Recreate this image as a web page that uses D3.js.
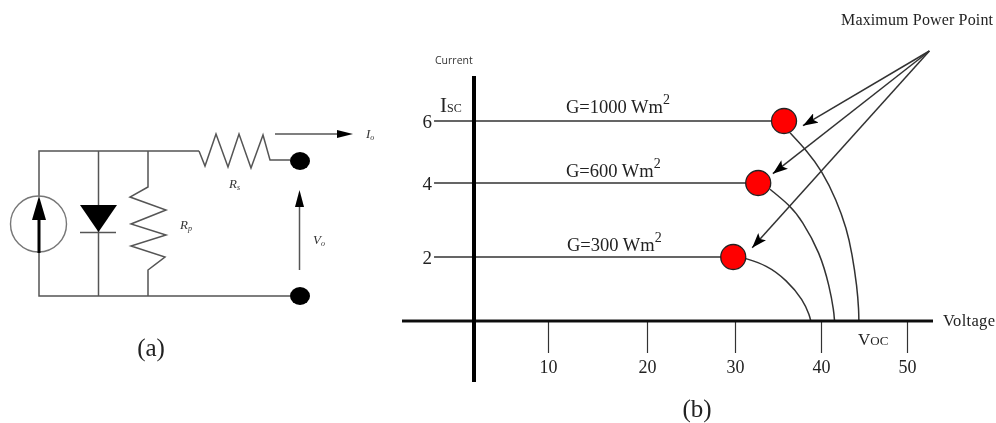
<!DOCTYPE html>
<html><head><meta charset="utf-8">
<script src="https://cdn.jsdelivr.net/npm/d3@7"></script>
<style>html,body{margin:0;padding:0;background:#fff}svg{display:block}</style>
</head><body><svg id="c" width="996" height="423"></svg>
<script>
// ---- chart (b) data ----
const voltageTicks = [10, 20, 30, 40, 50];
const currentTicks = [2, 4, 6];
const irradianceLabels = ["G=1000 Wm", "G=600 Wm", "G=300 Wm"];
const iscValues = [6, 4, 2];
const mppVoltage = [35.7, 32.7, 29.8];
const curve1000 = [[36.4,5.62],[38.3,5.06],[40.1,4.4],[41.8,3.54],[43.0,2.75],[43.6,2.11],[44.2,1.06],[44.4,0.3],[44.4,0]];
const curve600  = [[34.07,3.83],[36.4,3.39],[37.76,3.0],[39.9,2.11],[41.0,1.06],[41.5,0.3],[41.57,0]];
const curve300  = [[31.0,1.97],[33.69,1.75],[36.0,1.28],[37.94,0.66],[38.7,0.15],[38.8,0]];
const arrowTips = [[37.9,5.85],[34.4,4.3],[32,2.25]];
const arrowSource = [[52.6,8.3]];

// ---- circuit (a) nodes ----
const wireTop = [[39,196],[39,151],[199,151]];
const wireBottom = [[39,253],[39,296],[290,296]];
const wireDiode = [[98.5,151],[98.5,296]];
const resistorS = [[199,151],[205,166],[216,134],[228,167],[239,134],[251,168],[263,135],[270,160],[290,160]];
const resistorP = [[148,151],[148,187],[130,197],[166,210],[131,224],[166,235],[131,246],[165,257],[148,270],[148,296]];

const svg = d3.select("#c");
const defs = svg.append("defs");
defs.append("filter").attr("id","soft").attr("x","-5%").attr("y","-5%").attr("width","110%").attr("height","110%")
  .append("feGaussianBlur").attr("stdDeviation",0.45);
const marker = defs.append("marker").attr("id","head").attr("viewBox","0 0 14 10").attr("refX",14).attr("refY",5)
  .attr("markerUnits","userSpaceOnUse").attr("markerWidth",15).attr("markerHeight",11).attr("orient","auto");
marker.append("path").attr("d","M0,0L14,5L0,10L3,5Z").attr("fill","#000");

const root = svg.append("g").attr("filter","url(#soft)");
const SERIF = "'Liberation Serif','Times New Roman',serif";
const ink = "#333";

// ---- (b) scales: the printed axes are not evenly spaced ----
const x = d3.scaleLinear().domain([0,10,20,30,40,50]).range([474,548,647,735,821,907]);
const y = d3.scaleLinear().domain([0,2,4,6,8.3]).range([321,257,183,121,51]);

// horizontal plateaus with left tick stubs
const plateauStart = -5.4;
root.append("g").selectAll("line").data(iscValues).join("line")
  .attr("x1",x(plateauStart)).attr("x2",(d,i)=>x(mppVoltage[i])).attr("y1",d=>y(d)).attr("y2",d=>y(d))
  .attr("stroke",ink).attr("stroke-width",1.5);

// knee curves
const kneeCurve = d3.line().x(d=>x(d[0])).y(d=>y(d[1])).curve(d3.curveBasis);
root.append("g").selectAll("path").data([curve1000,curve600,curve300]).join("path")
  .attr("d",kneeCurve).attr("fill","none").attr("stroke",ink).attr("stroke-width",1.5);

// axes
const xAxisG = root.append("g").attr("transform",`translate(0,${y(0)})`);
xAxisG.call(d3.axisBottom(x).tickValues(voltageTicks).tickSize(32).tickPadding(7).tickFormat(d3.format("d")));
xAxisG.select(".domain").remove();
xAxisG.selectAll("line").attr("stroke",ink).attr("stroke-width",1.2);
xAxisG.selectAll("text").attr("font-family",SERIF).attr("font-size",18).attr("fill","#222");
root.append("line").attr("x1",402).attr("x2",933).attr("y1",y(0)).attr("y2",y(0)).attr("stroke","#111").attr("stroke-width",3);
root.append("line").attr("x1",x(0)).attr("x2",x(0)).attr("y1",76).attr("y2",382).attr("stroke","#000").attr("stroke-width",4);

const yAxisG = root.append("g").attr("transform",`translate(${x(plateauStart)},0)`);
yAxisG.call(d3.axisLeft(y).tickValues(currentTicks).tickSize(0).tickPadding(2).tickFormat(d3.format("d")));
yAxisG.select(".domain").remove();
yAxisG.selectAll("text").attr("font-family",SERIF).attr("font-size",19).attr("fill","#222");

// leader arrows
root.append("g").selectAll("line").data(arrowTips).join("line")
  .attr("x1",x(arrowSource[0][0])).attr("y1",y(arrowSource[0][1]))
  .attr("x2",d=>x(d[0])).attr("y2",d=>y(d[1]))
  .attr("stroke",ink).attr("stroke-width",1.5).attr("marker-end","url(#head)");

// maximum power points
root.append("g").selectAll("circle").data(iscValues).join("circle")
  .attr("cx",(d,i)=>x(mppVoltage[i])).attr("cy",d=>y(d)).attr("r",12.5)
  .attr("fill","#f00").attr("stroke","#222").attr("stroke-width",1.3);

function label(parent,t,px,py,size,opts={}){
  return parent.append("text").attr("x",px).attr("y",py).text(t)
    .attr("font-family",opts.family||SERIF).attr("font-size",size)
    .attr("font-style",opts.style||null).attr("text-anchor",opts.anchor||"start")
    .attr("fill",opts.fill||"#222").attr("textLength",opts.len||null);
}
// irradiance labels
const gPos = [[566,113],[566,177],[567,251]];
irradianceLabels.forEach((t,i)=>{
  const tx = label(root,t,gPos[i][0],gPos[i][1],18.5);
  tx.append("tspan").text("2").attr("font-size",14).attr("dy",-9);
});
label(root,"Current",435,64,10.5,{family:"'Open Sans',sans-serif",fill:"#333"});
const isc = label(root,"I",440,112,21);
isc.append("tspan").text("SC").attr("font-size",12);
const voc = label(root,"V",858,345,17);
voc.append("tspan").text("OC").attr("font-size",13);
label(root,"Voltage",943,326,16.5,{len:52});
label(root,"Maximum Power Point",841,25,16,{len:152});
label(root,"(b)",697,417,25,{anchor:"middle"});

// ---- (a) circuit drawn on an identity scale ----
const cx = d3.scaleIdentity(), cy = d3.scaleIdentity();
const cline = d3.line().x(d=>cx(d[0])).y(d=>cy(d[1]));
const wireColor = "#555";
root.append("g").selectAll("path").data([wireTop,wireBottom,wireDiode,resistorS,resistorP]).join("path")
  .attr("d",cline).attr("fill","none").attr("stroke",wireColor).attr("stroke-width",1.5);
root.append("circle").attr("cx",cx(38.5)).attr("cy",cy(224)).attr("r",28).attr("fill","none").attr("stroke","#777").attr("stroke-width",1.4);
root.append("line").attr("x1",39).attr("x2",39).attr("y1",253).attr("y2",215).attr("stroke","#000").attr("stroke-width",3);
root.append("path").attr("d",cline([[32,220],[39,196],[46,220]])+"Z").attr("fill","#000");
root.append("path").attr("d",cline([[80,205],[117,205],[98.5,232]])+"Z").attr("fill","#000");
root.append("line").attr("x1",80).attr("x2",116).attr("y1",232.5).attr("y2",232.5).attr("stroke",wireColor).attr("stroke-width",1.5);
root.append("ellipse").attr("cx",300).attr("cy",161).attr("rx",10).attr("ry",9).attr("fill","#000");
root.append("ellipse").attr("cx",300).attr("cy",296).attr("rx",10).attr("ry",9).attr("fill","#000");
root.append("line").attr("x1",275).attr("x2",340).attr("y1",134).attr("y2",134).attr("stroke",wireColor).attr("stroke-width",1.5);
root.append("path").attr("d",cline([[337,130],[353,134],[337,138]])+"Z").attr("fill","#000");
root.append("line").attr("x1",299.5).attr("x2",299.5).attr("y1",270).attr("y2",200).attr("stroke",wireColor).attr("stroke-width",1.5);
root.append("path").attr("d",cline([[295,207],[299.5,190],[304,207]])+"Z").attr("fill","#000");

function sub(main,s,px,py){
  const t = label(root,main,px,py,13,{style:"italic",fill:"#333"});
  t.append("tspan").text(s).attr("font-size",8).attr("dy",2);
}
sub("I","o",366,138);
sub("R","s",229,188);
sub("R","p",180,229);
sub("V","o",313,244);
label(root,"(a)",151,356,25,{anchor:"middle"});
</script></body></html>
